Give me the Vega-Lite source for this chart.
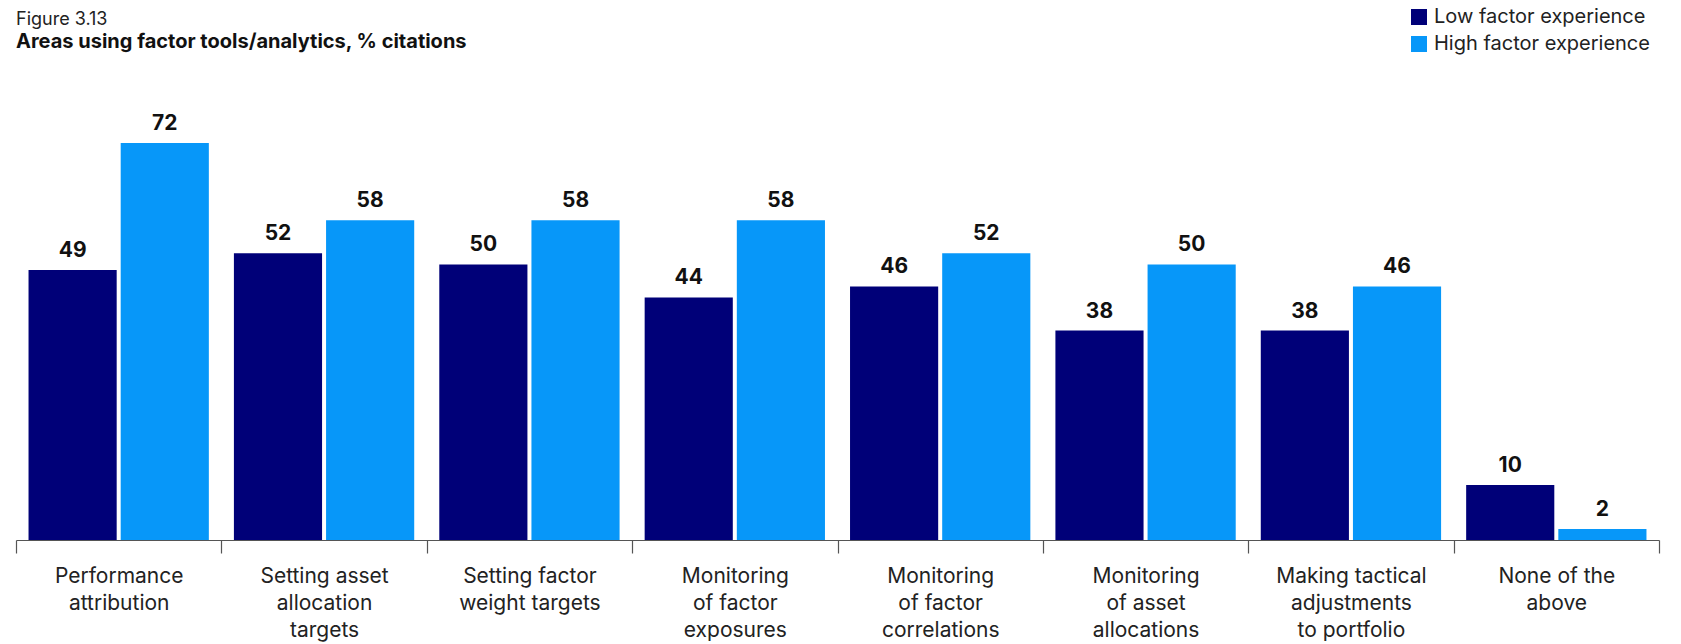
{
  "$schema": "https://vega.github.io/schema/vega-lite/v6.json",
  "width": 1643,
  "height": 441,
  "autosize": {"type": "none"},
  "padding": {"left": 16, "top": 99, "right": 22, "bottom": 104},
  "title": {
    "text": "Figure 3.13",
    "subtitle": "Areas using factor tools/analytics, % citations",
    "anchor": "start",
    "frame": "group",
    "font": "Inter",
    "fontSize": 18,
    "fontWeight": "normal",
    "color": "#222222",
    "subtitleFont": "Inter",
    "subtitleFontSize": 20,
    "subtitleFontWeight": "bold",
    "subtitleColor": "#111111",
    "subtitlePadding": 3,
    "offset": -45
  },
  "config": {
    "view": {"stroke": null},
    "font": "Inter"
  },
  "data": {
    "values": [
      {"area": "Performance|attribution", "group": "Low factor experience", "value": 49},
      {"area": "Performance|attribution", "group": "High factor experience", "value": 72},
      {"area": "Setting asset|allocation|targets", "group": "Low factor experience", "value": 52},
      {"area": "Setting asset|allocation|targets", "group": "High factor experience", "value": 58},
      {"area": "Setting factor|weight targets", "group": "Low factor experience", "value": 50},
      {"area": "Setting factor|weight targets", "group": "High factor experience", "value": 58},
      {"area": "Monitoring|of factor|exposures", "group": "Low factor experience", "value": 44},
      {"area": "Monitoring|of factor|exposures", "group": "High factor experience", "value": 58},
      {"area": "Monitoring|of factor|correlations", "group": "Low factor experience", "value": 46},
      {"area": "Monitoring|of factor|correlations", "group": "High factor experience", "value": 52},
      {"area": "Monitoring|of asset|allocations", "group": "Low factor experience", "value": 38},
      {"area": "Monitoring|of asset|allocations", "group": "High factor experience", "value": 50},
      {"area": "Making tactical|adjustments|to portfolio", "group": "Low factor experience", "value": 38},
      {"area": "Making tactical|adjustments|to portfolio", "group": "High factor experience", "value": 46},
      {"area": "None of the|above", "group": "Low factor experience", "value": 10},
      {"area": "None of the|above", "group": "High factor experience", "value": 2}
    ]
  },
  "encoding": {
    "x": {
      "field": "area",
      "type": "nominal",
      "sort": null,
      "scale": {"paddingInner": 0, "paddingOuter": 0},
      "axis": {
        "title": null,
        "labelAngle": 0,
        "labelExpr": "isValid(datum.value) ? split(datum.value, '|') : ''",
        "labelFont": "Inter",
        "labelFontSize": 21,
        "labelColor": "#222222",
        "labelLineHeight": 27,
        "labelPadding": 12,
        "labelBaseline": "top",
        "tickBand": "extent",
        "tickSize": 13,
        "tickColor": "#555555",
        "tickWidth": 1.2,
        "domainColor": "#555555",
        "domainWidth": 1.2,
        "labelLimit": 0
      }
    },
    "xOffset": {
      "field": "group",
      "type": "nominal",
      "sort": ["Low factor experience", "High factor experience"],
      "scale": {"paddingInner": 0.0435, "paddingOuter": 0.136}
    },
    "y": {
      "field": "value",
      "type": "quantitative",
      "scale": {"domain": [0, 80], "nice": false},
      "axis": null
    }
  },
  "layer": [
    {
      "mark": {"type": "bar"},
      "encoding": {
        "color": {
          "field": "group",
          "type": "nominal",
          "sort": ["Low factor experience", "High factor experience"],
          "scale": {
            "domain": ["Low factor experience", "High factor experience"],
            "range": ["#000078", "#0797F9"]
          },
          "legend": {
            "title": null,
            "orient": "none",
            "legendX": 1393,
            "legendY": -92,
            "symbolType": "square",
            "symbolSize": 256,
            "symbolStrokeWidth": 0,
            "labelFont": "Inter",
            "labelFontSize": 20,
            "labelColor": "#222222",
            "labelLimit": 400,
            "rowPadding": 7,
            "labelOffset": 5
          }
        }
      }
    },
    {
      "mark": {"type": "text", "baseline": "bottom", "dy": -9, "font": "Inter", "fontSize": 21, "fontWeight": "bold", "color": "#111111"},
      "encoding": {
        "text": {"field": "value", "type": "quantitative"}
      }
    }
  ]
}
